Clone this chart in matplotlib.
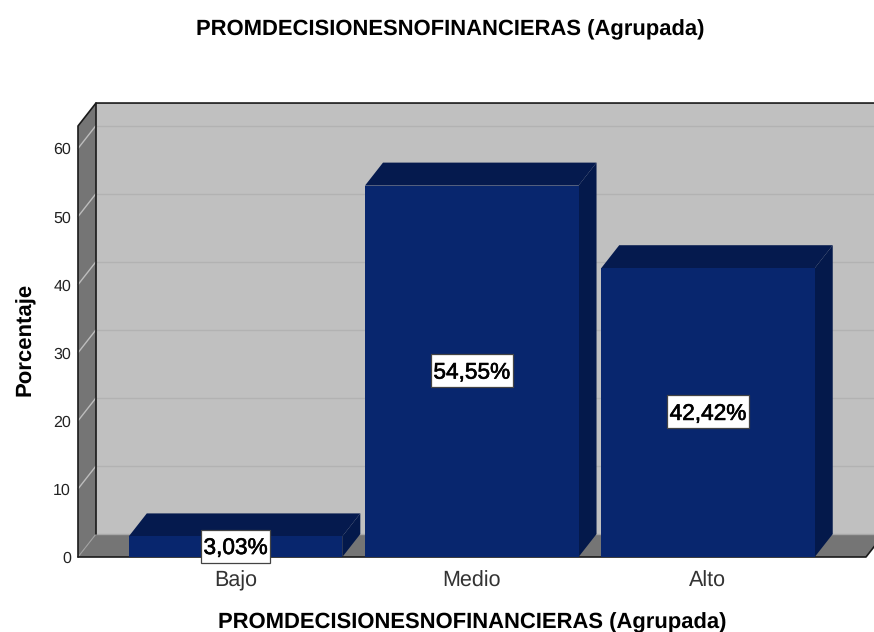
import matplotlib
matplotlib.use('Agg')
import matplotlib.pyplot as plt
import matplotlib.patheffects as pe
from matplotlib.patches import Polygon
from matplotlib.path import Path

plt.rcParams['font.family'] = ['Liberation Sans', 'DejaVu Sans']
plt.rcParams['text.hinting'] = 'none'
plt.rcParams['text.kerning_factor'] = 6

categories = ['Bajo', 'Medio', 'Alto']
values = [3.03, 54.55, 42.42]
value_labels = ['3,03%', '54,55%', '42,42%']
y_ticks = [0, 10, 20, 30, 40, 50, 60]
title = 'PROMDECISIONESNOFINANCIERAS (Agrupada)'

W, H = 874, 632
X0, X1 = -0.667, 2.669
Y1 = 63.3
DX = 18 / 236.25   # depth of the 3d box in data units
DY = 23 / 6.82
BAR_W = 0.904

def poly(ax, pts, color, edge='none', lw=0, z=1):
    ax.add_patch(Polygon(pts, closed=True, facecolor=color, edgecolor=edge,
                         linewidth=lw, zorder=z, clip_on=False))

def line(ax, xs, ys, color='#1a1a1a', lw=1.2, z=3):
    ax.plot(xs, ys, color=color, lw=lw, zorder=z, clip_on=False, solid_capstyle='round')

def label_box(x0, y0, width, height, mutation_size):
    # box is taller than the text, pads given in px, sits 2px high
    px, py = 2.5, 16.5 - height / 2
    b, t = y0 - py + 2, y0 + height + py + 2
    return Path([(x0 - px, b), (x0 + width + px, b), (x0 + width + px, t),
                 (x0 - px, t), (x0 - px, b)], closed=True)

fig = plt.figure(figsize=(W / 100, H / 100), dpi=100)
ax = fig.add_axes([78 / W, 1 - 557 / H, (866 - 78) / W, (557 - 126) / H])
ax.set_xlim(X0, X1)
ax.set_ylim(0, Y1)
ax.patch.set_visible(False)
for s in ax.spines.values():
    s.set_visible(False)

# walls and floor
poly(ax, [(X0 + DX, DY), (X1 + DX, DY), (X1 + DX, Y1 + DY), (X0 + DX, Y1 + DY)], '#c0c0c0')
poly(ax, [(X0, 0), (X0 + DX, DY), (X0 + DX, Y1 + DY), (X0, Y1)], '#757575')
poly(ax, [(X0, 0), (X1, 0), (X1 + DX, DY), (X0 + DX, DY)], '#757575')

# gridlines
for t in y_ticks[1:]:
    line(ax, [X0 + DX, X1 + DX], [t + DY, t + DY], color='#b2b2b2', lw=1.0, z=2)
    line(ax, [X0, X0 + DX], [t, t + DY], color='#bdbdbd', lw=1.0, z=2)
line(ax, [X0, X0 + DX], [0, DY], color='#a0a0a0', lw=0.8, z=2)
line(ax, [X0 + DX, X1 + DX], [DY, DY], color='#a8a8a8', lw=1.0, z=2)

# frame
line(ax, [X0, X0, X0 + DX, X1 + DX], [0, Y1, Y1 + DY, Y1 + DY])
line(ax, [X0 + DX, X0 + DX], [DY, Y1 + DY])
line(ax, [X0, X1, X1 + DX], [0, 0, DY])

# bars
for i, v in enumerate(values):
    l, r = i - BAR_W / 2, i + BAR_W / 2
    poly(ax, [(l, v), (r, v), (r + DX, v + DY), (l + DX, v + DY)], '#051a4e', z=4)
    poly(ax, [(r, 0), (r + DX, DY), (r + DX, v + DY), (r, v)], '#04194b', z=4)
    ax.bar(i, v, width=BAR_W, color='#08266e', zorder=5, clip_on=False)
    ax.annotate(value_labels[i], xy=(i, v / 2), xytext=(0, -1), textcoords='offset points',
                ha='center', va='center', fontsize=16.3, color='black', zorder=7,
                annotation_clip=False,
                path_effects=[pe.withStroke(linewidth=0.45, foreground='black')],
                bbox=dict(boxstyle=label_box, facecolor='white', edgecolor='#444444', linewidth=0.9))

ax.set_xticks(range(len(categories)))
ax.set_xticklabels(categories, fontsize=15.5, color='#333333')
ax.set_yticks(y_ticks)
ax.set_yticklabels([str(t) for t in y_ticks], fontsize=11.5, color='#222222')
ax.tick_params(axis='both', length=0)
ax.tick_params(axis='x', pad=10)
ax.tick_params(axis='y', pad=5)

fig.text(450 / W, 1 - 30 / H, title, ha='center', va='center', fontsize=15.8, fontweight='bold')
fig.text(472 / W, 1 - 623 / H, title, ha='center', va='center', fontsize=15.8, fontweight='bold')
fig.text(25 / W, 1 - 339 / H, 'Porcentaje', ha='center', va='center', rotation=90,
         fontsize=15.9, fontweight='bold')

fig.savefig('out.png', dpi=100)
